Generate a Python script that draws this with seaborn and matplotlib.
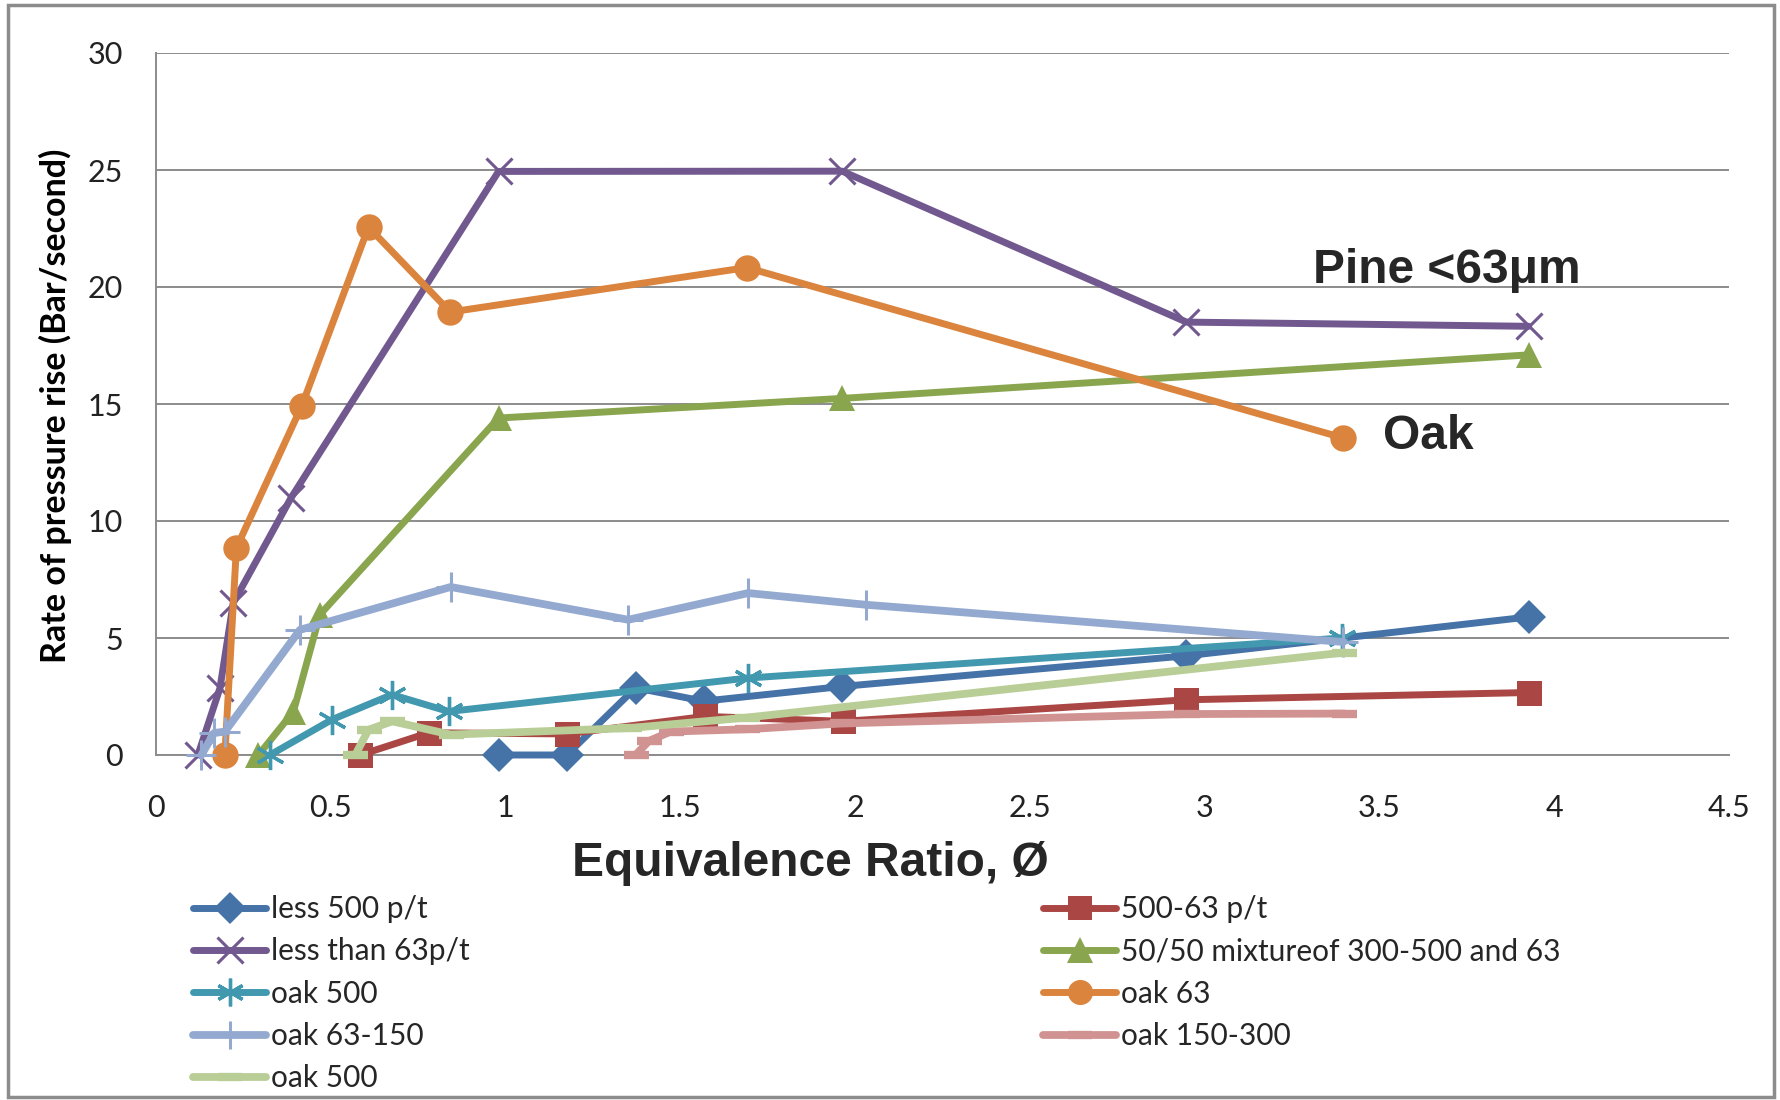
import matplotlib
matplotlib.use("Agg")
import matplotlib.pyplot as plt
import seaborn as sns
import numpy as np
from matplotlib.patches import Rectangle
from matplotlib.ticker import FuncFormatter

# ---- data ----
less500_x = [0.98, 1.175, 1.372, 1.567, 1.963, 2.948, 3.927]
less500_y = [0.0, 0.0, 2.87, 2.3, 2.93, 4.24, 5.9]

r500_63_x = [0.584, 0.78, 1.176, 1.57, 1.964, 2.948, 3.927]
r500_63_y = [0.0, 0.95, 0.9, 1.65, 1.44, 2.36, 2.67]

lt63_x = [0.12, 0.183, 0.221, 0.386, 0.98, 1.963, 2.948, 3.927]
lt63_y = [0.0, 2.86, 6.5, 10.98, 24.94, 24.95, 18.5, 18.32]

mix_x = [0.293, 0.393, 0.469, 0.98, 1.963, 3.927]
mix_y = [0.0, 1.85, 6.0, 14.4, 15.24, 17.1]

oak500_x = [0.326, 0.503, 0.675, 0.837, 1.694, 3.394]
oak500_y = [0.0, 1.51, 2.58, 1.86, 3.29, 5.0]

oak63_x = [0.197, 0.23, 0.4165, 0.608, 0.842, 1.69, 3.396]
oak63_y = [0.0, 8.85, 14.9, 22.56, 18.93, 20.83, 13.55]

oak63_150_x = [0.13, 0.166, 0.197, 0.412, 0.843, 1.351, 1.694, 2.031, 3.397]
oak63_150_y = [0.0, 0.94, 1.0, 5.35, 7.18, 5.78, 6.92, 6.42, 4.83]

oak150_300_x = [1.372, 1.41, 1.472, 1.69, 1.963, 2.95, 3.40]
oak150_300_y = [0.0, 0.6, 1.0, 1.1, 1.35, 1.75, 1.77]

oak500b_x = [0.57, 0.608, 0.676, 0.843, 1.354, 1.69, 3.40]
oak500b_y = [0.0, 1.08, 1.44, 0.87, 1.15, 1.6, 4.38]

labels = ["less 500 p/t", "500-63 p/t", "less than 63p/t",
          "50/50 mixtureof 300-500 and 63", "oak 500", "oak 63",
          "oak 63-150", "oak 150-300", "oak 500"]
colors = ["#4572A7", "#AA4643", "#71588F", "#89A54E", "#4198AF",
          "#DB843D", "#93A9CF", "#D19392", "#B9CD96"]

x_ticks = [0, 0.5, 1, 1.5, 2, 2.5, 3, 3.5, 4, 4.5]
y_ticks = [0, 5, 10, 15, 20, 25, 30]

series = [(less500_x, less500_y), (r500_63_x, r500_63_y), (lt63_x, lt63_y),
          (mix_x, mix_y), (oak500_x, oak500_y), (oak63_x, oak63_y),
          (oak63_150_x, oak63_150_y), (oak150_300_x, oak150_300_y),
          (oak500b_x, oak500b_y)]

styles = [
    dict(marker="D", markersize=17, lw=5.0, mew=0),
    dict(marker="s", markersize=18, lw=5.0, mew=0),
    dict(marker="x", markersize=19, lw=5.0, mew=2.2),
    dict(marker="^", markersize=19, lw=5.0, mew=0),
    dict(marker=(6, 2, 0), markersize=21, lw=5.0, mew=2.4),
    dict(marker="o", markersize=19, lw=5.0, mew=0),
    dict(marker="+", markersize=21, lw=5.6, mew=2.2),
    dict(marker="_", markersize=18, lw=5.6, mew=6),
    dict(marker="_", markersize=18, lw=5.6, mew=6),
]

sns.set_theme(style="white")
plt.rcParams["font.family"] = ["Lato", "DejaVu Sans"]

W, H = 1781, 1100
fig = plt.figure(figsize=(W / 100, H / 100), dpi=100)
ax = fig.add_axes([156 / W, 1 - 755 / H, (1729 - 156) / W, (755 - 53) / H])

handles = []
for (xs, ys), lab, col, st in zip(series, labels, colors, styles):
    sns.lineplot(x=xs, y=ys, ax=ax, color=col, estimator=None, sort=False,
                 marker=st["marker"], markersize=st["markersize"], lw=st["lw"],
                 markeredgewidth=st["mew"], markeredgecolor=col,
                 markerfacecolor=col, clip_on=False, zorder=3, legend=False)
    handles.append(ax.lines[-1])

ax.set_xlim(0, 4.5)
ax.set_ylim(0, 30)
ax.set_xticks(x_ticks)
ax.set_yticks(y_ticks)
ax.xaxis.set_major_formatter(FuncFormatter(lambda v, p: f"{v:g}"))
ax.grid(axis="y", color="#8C8C8C", lw=1.4, zorder=0)
ax.grid(axis="x", visible=False)
for s in ["top", "right"]:
    ax.spines[s].set_visible(False)
for s in ["left", "bottom"]:
    ax.spines[s].set_color("#8C8C8C")
    ax.spines[s].set_linewidth(1.4)
ax.tick_params(axis="x", length=0, pad=28, labelsize=22, colors="#222222")
ax.tick_params(axis="y", length=0, pad=24, labelsize=22, colors="#222222")
ax.set_xlabel("")
ax.set_ylabel("")

fig.text(55 / W, 1 - 406 / H, "Rate of pressure rise (Bar/second)",
         rotation=90, ha="center", va="center", fontsize=24.5,
         fontweight="bold", color="black")
fig.text(810 / W, 1 - 863 / H, "Equivalence Ratio, Ø", ha="center", va="center",
         fontsize=34.5, fontweight="bold", family=["Liberation Sans", "DejaVu Sans"])

ax.text(3.31, 20.7, "Pine <63μm", fontsize=34.5, fontweight="bold", va="center",
        ha="left", family=["Liberation Sans", "DejaVu Sans"])
ax.text(3.51, 13.6, "Oak", fontsize=34.5, fontweight="bold", va="center",
        ha="left", family=["Liberation Sans", "DejaVu Sans"])

leg_kw = dict(loc="upper left", frameon=False, fontsize=21.5, handlelength=2.45,
              handletextpad=0.15, borderpad=0, borderaxespad=0, labelspacing=0.48,
              markerscale=0.95)
col1 = [0, 2, 4, 6, 8]
col2 = [1, 3, 5, 7]
fig.legend([handles[i] for i in col1], [labels[i] for i in col1],
           bbox_to_anchor=(193 / W, 1 - 895 / H), **leg_kw)
fig.legend([handles[i] for i in col2], [labels[i] for i in col2],
           bbox_to_anchor=(1043 / W, 1 - 895 / H), **leg_kw)

fig.patches.append(Rectangle((8 / W, 3 / H), (1774 - 8) / W, (1095 - 3) / H,
                             transform=fig.transFigure, fill=False,
                             edgecolor="#8C8C8C", lw=2.5))

fig.savefig("out.png", dpi=100)
